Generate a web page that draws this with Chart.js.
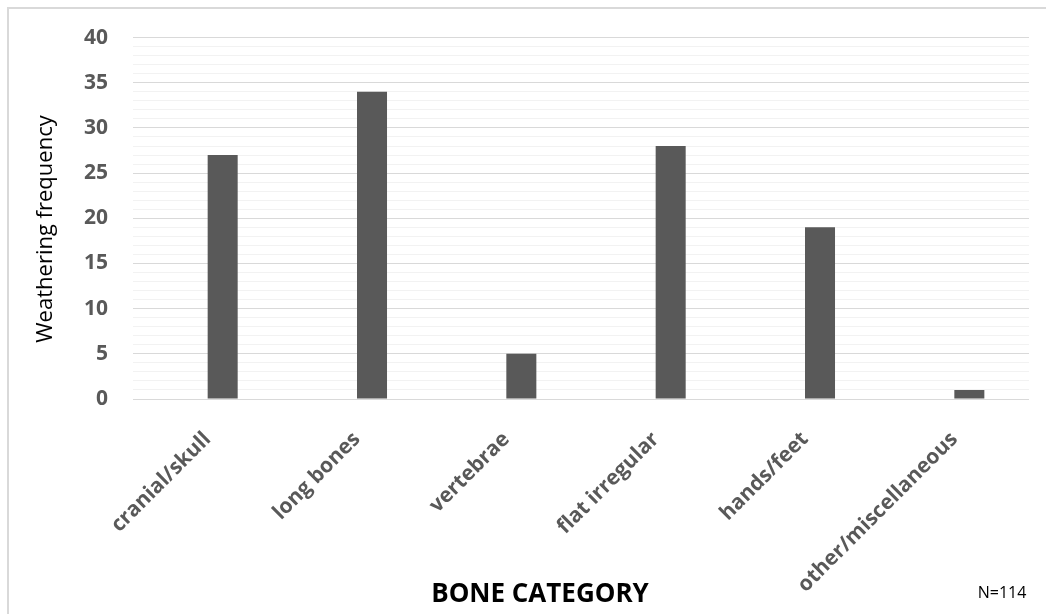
<!DOCTYPE html>
<html>
<head>
<meta charset="utf-8">
<script src="https://cdn.jsdelivr.net/npm/chart.js@4/dist/chart.umd.min.js"></script>
<style>
  html, body { margin: 0; padding: 0; background: #ffffff; }
  #c { display: block; }
</style>
</head>
<body>
<canvas id="c" width="1046" height="614"></canvas>
<script>
const categories = ['cranial/skull', 'long bones', 'vertebrae', 'flat irregular', 'hands/feet', 'other/miscellaneous'];
const frequency = [27, 34, 5, 28, 19, 1];
const emptySeries = [null, null, null, null, null, null];
const yMin = 0;
const yMax = 40;
const yMajorStep = 5;
const yMinorStep = 1;
const xAxisTitle = 'BONE CATEGORY';
const yAxisTitle = 'Weathering frequency';
const noteText = 'N=114';

const decorations = {
  id: 'decorations',
  afterDraw(chart) {
    const ctx = chart.ctx;
    ctx.save();
    ctx.strokeStyle = '#d9d9d9';
    ctx.lineWidth = 2;
    ctx.beginPath();
    ctx.moveTo(8, 614);
    ctx.lineTo(8, 8);
    ctx.lineTo(1046, 8);
    ctx.stroke();

    ctx.fillStyle = '#000000';
    ctx.textAlign = 'center';
    ctx.textBaseline = 'middle';
    ctx.font = '22px "Open Sans"';
    ctx.translate(46, 229);
    ctx.rotate(-Math.PI / 2);
    ctx.fillText(yAxisTitle, 0, 0);
    ctx.restore();

    ctx.save();
    ctx.fillStyle = '#000000';
    ctx.textAlign = 'center';
    ctx.textBaseline = 'alphabetic';
    ctx.font = 'bold 26px "Open Sans"';
    ctx.fillText(xAxisTitle, 540, 602);
    ctx.font = '16px "Open Sans"';
    ctx.fillText(noteText, 1002, 598);
    ctx.restore();
  }
};

new Chart(document.getElementById('c'), {
  type: 'bar',
  data: {
    labels: categories,
    datasets: [
      { label: 'empty', data: emptySeries, backgroundColor: '#595959' },
      { label: 'Weathering frequency', data: frequency, backgroundColor: '#595959' }
    ]
  },
  options: {
    responsive: false,
    animation: false,
    devicePixelRatio: 1,
    layout: { padding: { left: 0, top: 37, right: 17, bottom: 0 } },
    datasets: { bar: { categoryPercentage: 0.402, barPercentage: 1 } },
    plugins: { legend: { display: false }, tooltip: { enabled: false }, title: { display: false } },
    scales: {
      x: {
        grid: { display: false },
        border: { display: false },
        ticks: {
          autoSkip: false,
          maxRotation: 45,
          minRotation: 45,
          padding: 20,
          color: '#595959',
          font: { family: '"Open Sans"', size: 21, weight: 'bold' }
        },
        afterFit(scale) { scale.height = 215; }
      },
      y: {
        min: yMin,
        max: yMax,
        border: { display: false },
        grid: {
          drawTicks: false,
          lineWidth: 1,
          color: (c) => (c.tick && c.tick.value % yMajorStep === 0) ? '#d9d9d9' : '#f2f2f2'
        },
        ticks: {
          stepSize: yMinorStep,
          autoSkip: false,
          padding: 25,
          color: '#595959',
          font: { family: '"Open Sans"', size: 21, weight: 'bold' },
          callback: (v) => (v % yMajorStep === 0 ? String(v) : '')
        },
        afterFit(scale) { scale.width = 133; }
      }
    }
  },
  plugins: [decorations]
});
</script>
</body>
</html>
